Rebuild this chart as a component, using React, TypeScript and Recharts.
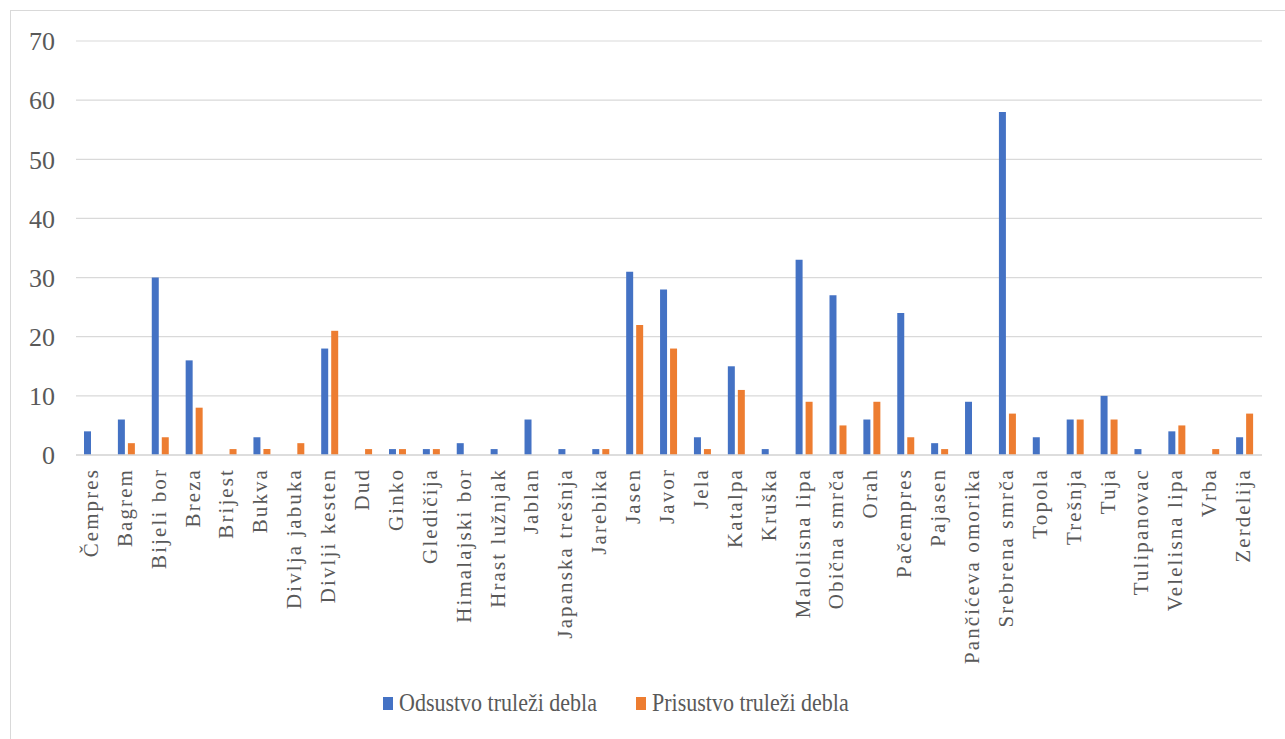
import React from 'react';
import { BarChart, Bar, XAxis, YAxis, CartesianGrid, Legend } from 'recharts';

const categories = [
  'Čempres', 'Bagrem', 'Bijeli bor', 'Breza', 'Brijest', 'Bukva', 'Divlja jabuka', 'Divlji kesten',
  'Dud', 'Ginko', 'Gledičija', 'Himalajski bor', 'Hrast lužnjak', 'Jablan', 'Japanska trešnja',
  'Jarebika', 'Jasen', 'Javor', 'Jela', 'Katalpa', 'Kruška', 'Malolisna lipa', 'Obična smrča',
  'Orah', 'Pačempres', 'Pajasen', 'Pančićeva omorika', 'Srebrena smrča', 'Topola', 'Trešnja',
  'Tuja', 'Tulipanovac', 'Velelisna lipa', 'Vrba', 'Zerdelija',
];
const odsustvo = [4, 6, 30, 16, 0, 3, 0, 18, 0, 1, 1, 2, 1, 6, 1, 1, 31, 28, 3, 15, 1, 33, 27, 6, 24, 2, 9, 58, 3, 6, 10, 1, 4, 0, 3];
const prisustvo = [0, 2, 3, 8, 1, 1, 2, 21, 1, 1, 1, 0, 0, 0, 0, 1, 22, 18, 1, 11, 0, 9, 5, 9, 3, 1, 0, 7, 0, 6, 6, 0, 5, 1, 7];
const yTicks = [0, 10, 20, 30, 40, 50, 60, 70];
const seriesNames = ['Odsustvo truleži debla', 'Prisustvo truleži debla'];
const seriesColors = ['#4472C4', '#ED7D31'];

const data = categories.map((name, i) => ({ name, odsustvo: odsustvo[i], prisustvo: prisustvo[i] }));

const FONT = '"Liberation Serif", "Times New Roman", serif';
const TEXT = '#595959';
const legendLeft = [372, 625];

function CategoryTick(props: any) {
  const { x, y, payload } = props;
  return (
    <g transform={`translate(${x},${y + 13}) rotate(-90)`}>
      <text x={0} y={0} dy={5} textAnchor="end" fontFamily={FONT} fontSize={21} letterSpacing={2.1} fill={TEXT}>
        {payload.value}
      </text>
    </g>
  );
}

function LegendContent() {
  return (
    <div style={{ position: 'relative', width: 1264, height: 30, fontFamily: FONT, fontSize: 22, color: TEXT }}>
      {seriesNames.map((n, i) => (
        <div
          key={n}
          style={{ position: 'absolute', left: legendLeft[i], top: 0, height: 30, display: 'flex', alignItems: 'center', whiteSpace: 'nowrap' }}
        >
          <span style={{ display: 'inline-block', width: 10, height: 13, background: seriesColors[i], marginRight: 6 }} />
          <span style={{ display: 'inline-block', transform: 'scaleY(1.18)' }}>{n}</span>
        </div>
      ))}
    </div>
  );
}

export default function App() {
  return (
    <div
      style={{
        position: 'fixed', left: 10, top: 10, width: 1300, height: 760,
        border: '1px solid #d9d9d9', background: '#fff',
      }}
    >
      <BarChart
        width={1264}
        height={728}
        data={data}
        margin={{ top: 30, right: 13, bottom: 21, left: 0 }}
        barSize={7}
        barGap={3}
      >
        <CartesianGrid vertical={false} stroke="#d9d9d9" strokeWidth={1.2} />
        <XAxis
          dataKey="name"
          interval={0}
          height={233}
          tickLine={false}
          tickSize={0}
          tickMargin={0}
          axisLine={{ stroke: '#d9d9d9', strokeWidth: 1.5 }}
          tick={<CategoryTick />}
        />
        <YAxis
          domain={[0, 70]}
          ticks={yTicks}
          interval={0}
          width={65}
          axisLine={false}
          tickLine={false}
          tickSize={0}
          tickMargin={21}
          tick={{ fontFamily: FONT, fontSize: 26, fill: TEXT }}
        />
        <Legend verticalAlign="bottom" height={30} wrapperStyle={{ left: 0, width: 1264 }} content={<LegendContent />} />
        <Bar dataKey="odsustvo" name={seriesNames[0]} fill={seriesColors[0]} isAnimationActive={false} />
        <Bar dataKey="prisustvo" name={seriesNames[1]} fill={seriesColors[1]} isAnimationActive={false} />
      </BarChart>
    </div>
  );
}
